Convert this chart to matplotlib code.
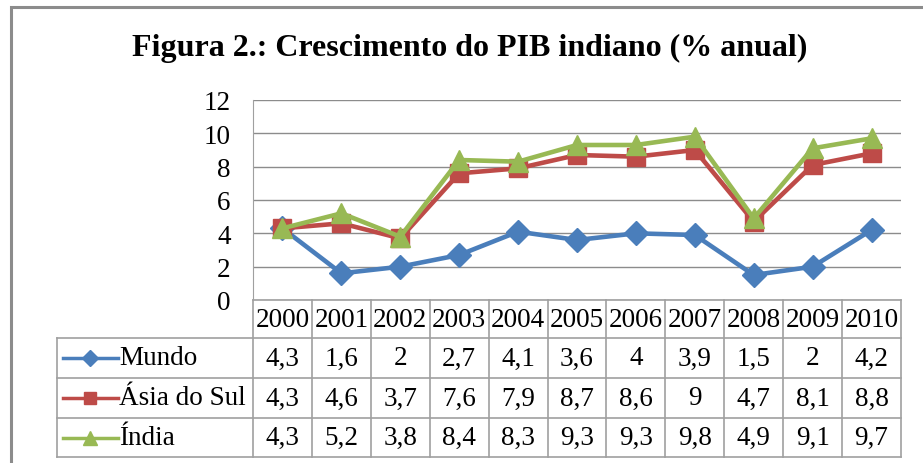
import matplotlib
matplotlib.use('Agg')
import matplotlib.pyplot as plt
from matplotlib.patches import Rectangle
from matplotlib.lines import Line2D

# Data
years = ['2000', '2001', '2002', '2003', '2004', '2005', '2006', '2007', '2008', '2009', '2010']
series_names = ['Mundo', 'Ásia do Sul', 'Índia']
mundo = [4.3, 1.6, 2, 2.7, 4.1, 3.6, 4, 3.9, 1.5, 2, 4.2]
asia_sul = [4.3, 4.6, 3.7, 7.6, 7.9, 8.7, 8.6, 9, 4.7, 8.1, 8.8]
india = [4.3, 5.2, 3.8, 8.4, 8.3, 9.3, 9.3, 9.8, 4.9, 9.1, 9.7]
yticks = [0, 2, 4, 6, 8, 10, 12]

colors = ['#4a7ebb', '#be4b48', '#98b954']
markers = ['D', 's', '^']
msizes = [12.5, 13, 14.5]
leg_msizes = [8, 9, 10]
all_series = [mundo, asia_sul, india]

plt.rcParams['font.family'] = ['Liberation Serif', 'DejaVu Serif']

W, H = 923, 464
fig = plt.figure(figsize=(W / 100, H / 100), dpi=100)

def box(l, t, r, b):
    return [l / W, 1 - b / H, (r - l) / W, (b - t) / H]

# outer frame
fig.patches.append(Rectangle((11 / W, -0.05), 1.1, 1 - 8 / H + 0.05, transform=fig.transFigure,
                             fill=False, edgecolor='#8c8c8c', linewidth=2.2))

fig.text(470 / W, 1 - 56 / H, 'Figura 2.: Crescimento do PIB indiano (% anual)',
         ha='center', va='baseline', fontsize=23, fontweight='bold')

# chart
ax = fig.add_axes(box(253, 101, 901, 301))
x = list(range(len(years)))
for vals, c, m, ms in zip(all_series, colors, markers, msizes):
    ax.plot(x, vals, color=c, marker=m, markersize=ms, linewidth=3.3, zorder=3)
ax.set_xlim(-0.5, len(years) - 0.5)
ax.set_ylim(0, 12)
ax.set_yticks(yticks)
ax.set_xticks([])
ax.yaxis.grid(True, color='#8c8c8c', linewidth=1)
ax.set_axisbelow(True)
ax.tick_params(axis='y', length=0, pad=16, labelsize=19.5)
for s in ['top', 'right', 'bottom']:
    ax.spines[s].set_visible(False)
ax.spines['left'].set_color('#a0a0a0')

# data table
col_w = 648 / len(years)
leg_w = 196 / col_w
tax = fig.add_axes(box(57, 301, 901, 458))
tax.set_xlim(-0.5 - leg_w, len(years) - 0.5)
tax.set_ylim(157, 0)
tax.axis('off')
row_edges = [0, 38, 78, 118, 157]
grid_c = '#a0a0a0'
for yy in row_edges:
    x0 = -0.5 if yy == 0 else -0.5 - leg_w
    tax.plot([x0, len(years) - 0.5], [yy, yy], color=grid_c, lw=1.2, clip_on=False)
for i in range(len(years) + 1):
    tax.plot([i - 0.5, i - 0.5], [0, 157], color=grid_c, lw=1.2, clip_on=False)
tax.plot([-0.5 - leg_w] * 2, [38, 157], color=grid_c, lw=1.2, clip_on=False)

def fmt(v):
    return ('%g' % v).replace('.', ',')

for i, yr in enumerate(years):
    tax.text(i, 20, yr, ha='center', va='center', fontsize=19.5)
for r, (name, vals, c, m, ms) in enumerate(zip(series_names, all_series, colors, markers, leg_msizes)):
    yc = (row_edges[r + 1] + row_edges[r + 2]) / 2
    for i, v in enumerate(vals):
        tax.text(i, yc, fmt(v), ha='center', va='center', fontsize=19.5)
    lx0 = -0.5 - leg_w + 6 / col_w
    lx1 = -0.5 - leg_w + 61 / col_w
    tax.add_line(Line2D([lx0, lx1], [yc, yc], color=c, lw=2.5))
    tax.add_line(Line2D([(lx0 + lx1) / 2], [yc], color=c, marker=m, markersize=ms))
    tax.text(-0.5 - leg_w + 62 / col_w, yc, name, ha='left', va='center', fontsize=19.5)

fig.savefig('out.png', dpi=100)
